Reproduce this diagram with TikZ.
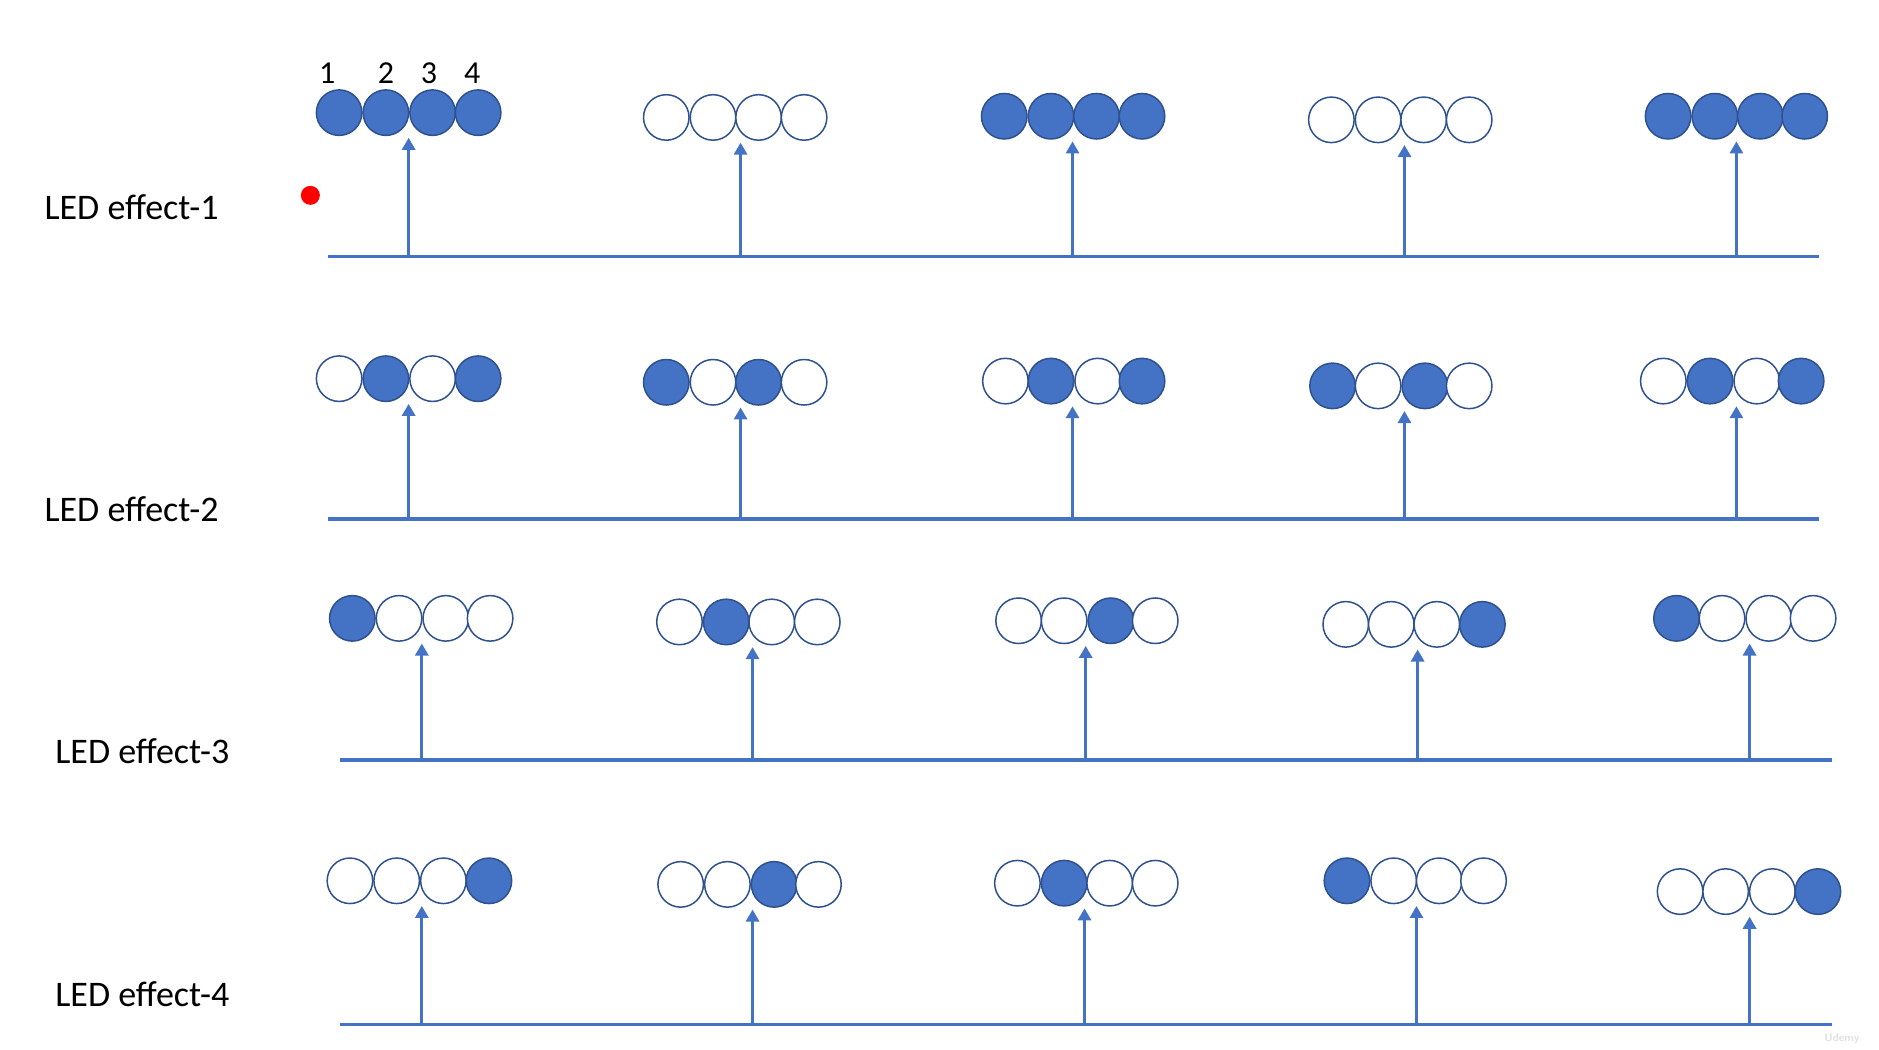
\documentclass[tikz,border=0pt]{standalone}
\usepackage{fontspec}
\setmainfont{Carlito}
\usetikzlibrary{arrows.meta}
\definecolor{ledblue}{HTML}{4472C4}
\definecolor{ledline}{HTML}{2F528F}
\begin{document}
\begin{tikzpicture}[x=1.198pt,y=-1.198pt,
 led/.style={circle,draw=ledline,line width=1.5pt,minimum size=45.5pt,inner sep=0pt},
 on/.style={led,fill=ledblue},
 off/.style={led,fill=white},
 axisline/.style={draw=ledblue,line width=3.8pt},
 trig/.style={draw=ledblue,line width=3pt,-{Triangle[width=13pt,length=12pt]}},
 lbl/.style={font=\fontsize{36}{43}\selectfont,anchor=west,inner sep=0pt},
 num/.style={font=\fontsize{32}{38}\selectfont,inner sep=0pt}]
\useasboundingbox (0,0) rectangle (1568,875.6);
\fill[white] (0,0) rectangle (1568,875.6);
% axes
\foreach \r/\xs/\xe/\ay in {1/274/1518/214, 2/274/1518/433, 3/284/1529/634, 4/284/1529/855}{
  \coordinate (ax\r s) at (\xs,\ay);
  \coordinate (ax\r e) at (\xe,\ay);
  \draw[axisline] (ax\r s) -- (ax\r e);
}
% LED groups
\foreach \r/\g/\xa/\xb/\xc/\xd/\y/\sa/\sb/\sc/\sd/\ax/\ay in {
 1/1/283/322/361/399/94/on/on/on/on/341/214,
 1/2/556/595/633/671/98/off/off/off/off/618/214,
 1/3/838/877/915/953/97/on/on/on/on/895/214,
 1/4/1111/1150/1188/1226/100/off/off/off/off/1172/214,
 1/5/1392/1431/1469/1506/97/on/on/on/on/1449/214,
 2/1/283/322/361/399/316/off/on/off/on/341/433,
 2/2/556/595/633/671/319/on/off/on/off/618/433,
 2/3/839/877/916/953/318/off/on/off/on/895/433,
 2/4/1112/1150/1189/1226/322/on/off/on/off/1172/433,
 2/5/1388/1427/1466/1503/318/off/on/off/on/1449/433,
 3/1/294/333/372/409/516/on/off/off/off/352/634,
 3/2/567/606/644/682/519/off/on/off/off/628/634,
 3/3/850/888/927/964/518/off/off/on/off/906/634,
 3/4/1123/1161/1199/1237/521/off/off/off/on/1183/634,
 3/5/1399/1437/1476/1513/516/on/off/off/off/1460/634,
 4/1/292/331/370/408/735/off/off/off/on/352/855,
 4/2/568/607/646/683/738/off/off/on/off/628/855,
 4/3/849/888/926/964/737/off/on/off/off/905/855,
 4/4/1124/1163/1201/1238/735/on/off/off/off/1182/855,
 4/5/1402/1440/1479/1517/744/off/off/off/on/1460/855}{
  \node[\sa] (r\r-g\g-c1) at (\xa,\y) {};
  \node[\sb] (r\r-g\g-c2) at (\xb,\y) {};
  \node[\sc] (r\r-g\g-c3) at (\xc,\y) {};
  \node[\sd] (r\r-g\g-c4) at (\xd,\y) {};
  \coordinate (r\r-g\g-b) at (\ax,\ay);
  \coordinate (r\r-g\g-t) at (\ax,\y+21);
  \draw[trig] (r\r-g\g-b) -- (r\r-g\g-t);
}
% LED numbers
\node[num] (n1) at (273,61) {1};
\node[num] (n2) at (322,61) {2};
\node[num] (n3) at (358,61) {3};
\node[num] (n4) at (394,61) {4};
% row labels
\node[lbl] (l1) at (37,173) {LED effect-1};
\node[lbl] (l2) at (37,425) {LED effect-2};
\node[lbl] (l3) at (46,627) {LED effect-3};
\node[lbl] (l4) at (46,830) {LED effect-4};
% red pointer dot
\node[circle,fill=red,inner sep=0pt,minimum size=19pt] (dot) at (259,163) {};
% watermark
\node[font=\sffamily\bfseries\fontsize{11}{13}\selectfont,text=black!12,inner sep=0pt] (wm) at (1537,867) {Udemy};
\end{tikzpicture}
\end{document}
